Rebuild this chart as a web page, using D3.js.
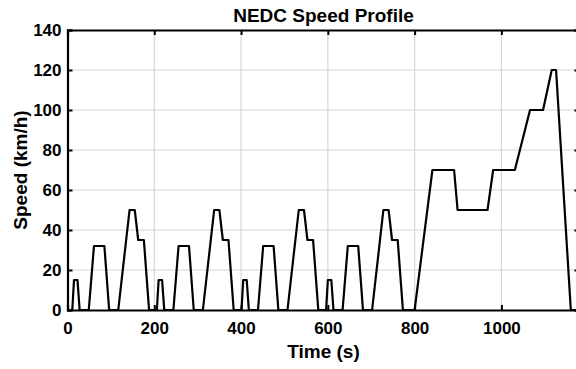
<!DOCTYPE html>
<html>
<head>
<meta charset="utf-8">
<script src="https://cdn.jsdelivr.net/npm/d3@7"></script>
<style>
  body { margin: 0; background: #fff; }
  svg { display: block; font-family: "Liberation Sans", Arial, sans-serif; font-weight: bold; }
</style>
</head>
<body>
<svg id="chart" width="576" height="369"></svg>
<script>
// NEDC speed profile: time (s) and speed (km/h)
var times = [
    0, 11, 15, 23, 28, 49, 61, 85, 96, 117, 143, 155, 163, 176, 188, 195,
    206, 210, 218, 223, 244, 256, 280, 291, 312, 338, 350, 358, 371, 383, 390,
    401, 405, 413, 418, 439, 451, 475, 486, 507, 533, 545, 553, 566, 578, 585,
    596, 600, 608, 613, 634, 646, 670, 681, 702, 728, 740, 748, 761, 773, 780,
    800, 841, 891, 899, 968, 981, 1031, 1066, 1096, 1116, 1126, 1160, 1180
];
var speeds = [
    0, 0, 15, 15, 0, 0, 32, 32, 0, 0, 50, 50, 35, 35, 0, 0,
    0, 15, 15, 0, 0, 32, 32, 0, 0, 50, 50, 35, 35, 0, 0,
    0, 15, 15, 0, 0, 32, 32, 0, 0, 50, 50, 35, 35, 0, 0,
    0, 15, 15, 0, 0, 32, 32, 0, 0, 50, 50, 35, 35, 0, 0,
    0, 70, 70, 50, 50, 70, 70, 100, 100, 120, 120, 0, 0
];
var xTicks = [0, 200, 400, 600, 800, 1000];
var yTicks = [0, 20, 40, 60, 80, 100, 120, 140];

var margin = { top: 30, left: 67.5 },
    width = 512,
    height = 280;

var svg = d3.select("#chart");
var g = svg.append("g").attr("transform", "translate(" + margin.left + "," + margin.top + ")");

var x = d3.scaleLinear().domain([0, 1180]).range([0, width]);
var y = d3.scaleLinear().domain([0, 140]).range([height, 0]);

// grid
g.append("g").selectAll("line").data(xTicks.slice(1)).enter().append("line")
    .attr("x1", d => x(d)).attr("x2", d => x(d))
    .attr("y1", 0).attr("y2", height)
    .attr("stroke", "#d6d6d6").attr("stroke-width", 1.2);
g.append("g").selectAll("line").data(yTicks.slice(1, -1)).enter().append("line")
    .attr("x1", 0).attr("x2", width)
    .attr("y1", d => y(d)).attr("y2", d => y(d))
    .attr("stroke", "#d6d6d6").attr("stroke-width", 1.2);

// data line
var pts = times.map((t, i) => [t, speeds[i]]);
g.append("path")
    .datum(pts)
    .attr("fill", "none")
    .attr("stroke", "#000")
    .attr("stroke-width", 2.2)
    .attr("stroke-linejoin", "round")
    .attr("d", d3.line().x(d => x(d[0])).y(d => y(d[1])));

// axes (ticks inward, box)
var xAxis = g.append("g").attr("transform", "translate(0," + height + ")")
    .call(d3.axisBottom(x).tickValues(xTicks).tickSize(-5).tickPadding(12).tickFormat(d3.format("d")));
var yAxis = g.append("g")
    .call(d3.axisLeft(y).tickValues(yTicks).tickSize(-5).tickPadding(6));
var xTop = g.append("g")
    .call(d3.axisTop(x).tickValues(xTicks).tickSize(-5).tickFormat(""));
var yRight = g.append("g").attr("transform", "translate(" + width + ",0)")
    .call(d3.axisRight(y).tickValues(yTicks).tickSize(-5).tickFormat(""));

[xAxis, yAxis, xTop, yRight].forEach(function(a) {
    a.select(".domain").attr("stroke", "#000").attr("stroke-width", 2.2);
    a.selectAll(".tick line").attr("stroke", "#000").attr("stroke-width", 2);
    a.selectAll(".tick text")
        .attr("fill", "#000")
        .style("font-size", "17px")
        .style("font-weight", "bold")
        .style("font-family", "'Liberation Sans', Arial, sans-serif");
});

// title and labels
svg.append("text")
    .attr("x", margin.left + x(590)).attr("y", 22)
    .attr("text-anchor", "middle")
    .style("font-size", "19px")
    .text("NEDC Speed Profile");
svg.append("text")
    .attr("x", margin.left + x(590)).attr("y", 358)
    .attr("text-anchor", "middle")
    .style("font-size", "19px")
    .text("Time (s)");
svg.append("text")
    .attr("transform", "translate(27," + (margin.top + height / 2) + ") rotate(-90)")
    .attr("text-anchor", "middle")
    .style("font-size", "19px")
    .text("Speed (km/h)");
</script>
</body>
</html>
